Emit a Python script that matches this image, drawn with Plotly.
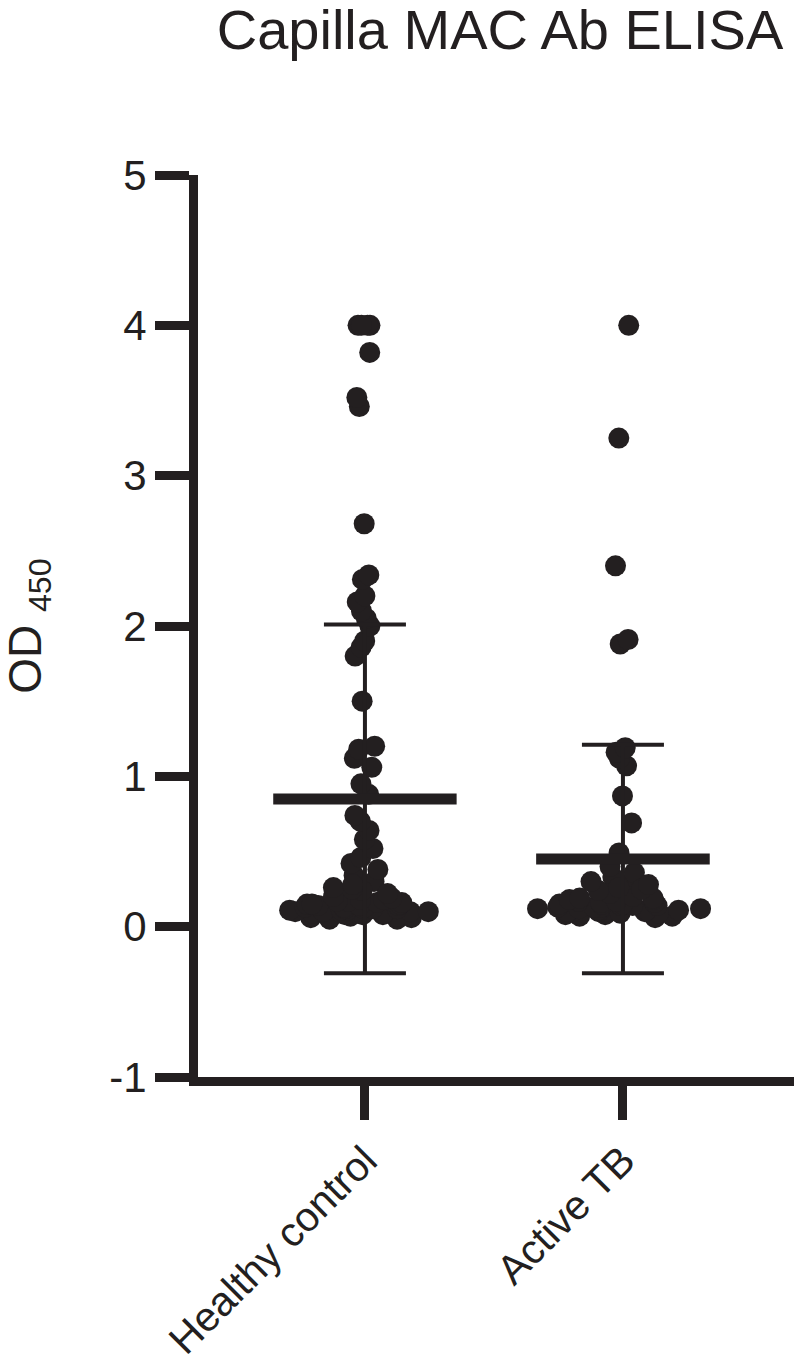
import plotly.graph_objects as go

# Groups and OD450 values
groups = ["Healthy control", "Active TB"]

# sparse points (>= 0.3) and the dense band near zero, per group
healthy_upper = [4.0, 4.0, 4.0, 4.0, 3.82, 3.52, 3.46, 2.68, 2.34, 2.31, 2.2, 2.16, 2.1, 2.05,
                 2.0, 1.9, 1.86, 1.8, 1.5, 1.2, 1.18, 1.12, 1.06, 0.95, 0.88, 0.74, 0.7, 0.64,
                 0.58, 0.52, 0.46, 0.42, 0.38, 0.34, 0.3]
healthy_lower = [0.28, 0.26, 0.25, 0.24, 0.22, 0.2, 0.19, 0.18, 0.18, 0.17, 0.17, 0.16, 0.16,
                 0.15, 0.15, 0.15, 0.14, 0.14, 0.14, 0.13, 0.13, 0.13, 0.12, 0.12, 0.12, 0.12,
                 0.11, 0.11, 0.11, 0.1, 0.1, 0.1, 0.1, 0.09, 0.09, 0.09, 0.08, 0.08, 0.08, 0.07,
                 0.07, 0.06, 0.06, 0.05, 0.05]

active_upper = [4.0, 3.25, 2.4, 1.91, 1.88, 1.19, 1.16, 1.12, 1.07, 0.87, 0.69, 0.49, 0.4,
                0.36, 0.33, 0.3]
active_lower = [0.3, 0.28, 0.26, 0.25, 0.24, 0.22, 0.2, 0.19, 0.19, 0.18, 0.18, 0.17, 0.17,
                0.16, 0.16, 0.15, 0.15, 0.15, 0.14, 0.14, 0.14, 0.13, 0.13, 0.13, 0.12, 0.12,
                0.12, 0.11, 0.11, 0.11, 0.1, 0.1, 0.1, 0.09, 0.09, 0.08, 0.08, 0.07, 0.07, 0.06]

# mean +/- SD as drawn
means = [0.85, 0.45]
sds = [1.16, 0.76]

y_ticks = [-1, 0, 1, 2, 3, 4, 5]
y_labels = ["-1", "0", "1", "2", "3", "4", "5"]

ink = "#231f20"
font = "Liberation Sans, Arial, Helvetica, sans-serif"

fig = go.Figure()

# scatter dots (invisible box, only the jittered points)
dots = [
    (groups[0], healthy_upper, 0.2),
    (groups[0], healthy_lower, 1.0),
    (groups[1], active_upper, 0.2),
    (groups[1], active_lower, 1.0),
]
for name, vals, jit in dots:
    fig.add_trace(go.Box(
        x=[name] * len(vals), y=vals, name=name,
        boxpoints="all", jitter=jit, pointpos=0, width=0.68,
        fillcolor="rgba(0,0,0,0)", line=dict(width=0, color="rgba(0,0,0,0)"),
        whiskerwidth=0,
        marker=dict(size=21, color=ink, opacity=1),
        showlegend=False))

# mean line with SD whiskers (line-ew length is 1.4 x size)
fig.add_trace(go.Scatter(
    x=groups, y=means, mode="markers",
    marker=dict(symbol="line-ew", size=[131, 124], opacity=1,
                line=dict(width=11, color=ink), color=ink),
    error_y=dict(type="data", array=sds, visible=True, thickness=4, width=41, color=ink),
    showlegend=False))

fig.update_layout(
    width=802, height=1372,
    margin=dict(l=190, r=0, t=167, b=303),
    plot_bgcolor="white", paper_bgcolor="white",
    font=dict(family=font, color=ink),
    title=dict(text="Capilla MAC Ab ELISA", x=492 / 802, xanchor="center",
               y=1 - 21 / 1372, yanchor="middle", font=dict(size=56, color=ink)),
    boxmode="overlay",
    annotations=[dict(
        text="OD <sub>450</sub>", textangle=-90, showarrow=False,
        xref="paper", yref="paper", x=-0.278, y=0.5,
        xanchor="center", yanchor="middle",
        font=dict(size=46, color=ink))],
)

fig.update_yaxes(
    range=[-1, 5], tickvals=y_ticks, ticktext=y_labels,
    showgrid=False, zeroline=False,
    showline=True, linewidth=9, linecolor=ink,
    ticks="outside", ticklen=34, tickwidth=9, tickcolor=ink,
    ticklabelstandoff=0,
    tickfont=dict(size=42, color=ink),
)

fig.update_xaxes(
    type="category", categoryorder="array", categoryarray=groups,
    range=[-0.647, 1.725],
    showgrid=False, zeroline=False,
    showline=True, linewidth=9, linecolor=ink,
    ticks="outside", ticklen=34, tickwidth=9, tickcolor=ink,
    tickangle=-45, tickfont=dict(size=41, color=ink),
)

fig.write_html("out.html")
